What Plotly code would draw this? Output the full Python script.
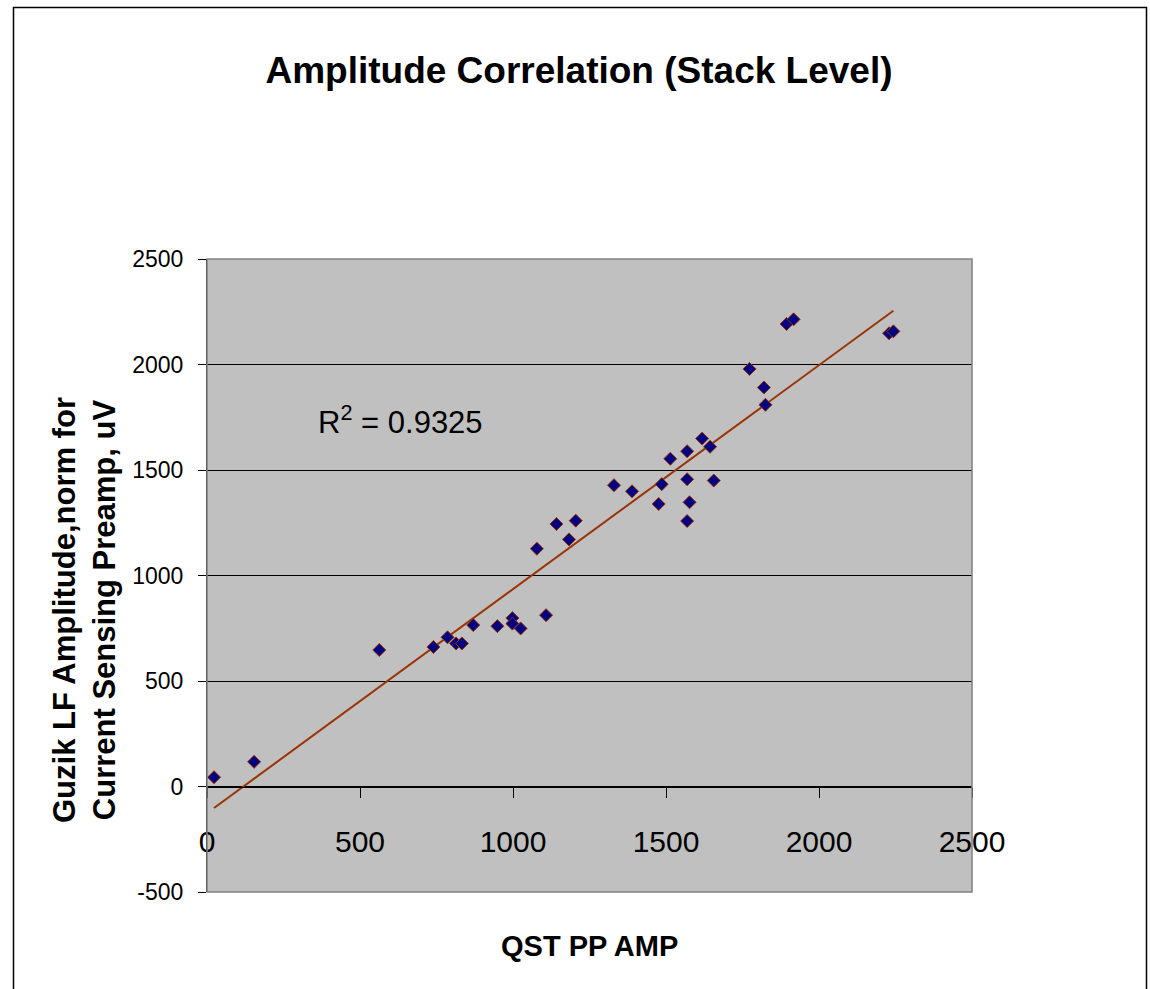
import numpy as np
import plotly.graph_objects as go

# Data
qst_pp_amp = [23, 154, 563, 740, 786, 814, 833, 870, 949, 998, 998, 1025, 1108,
              1078, 1142, 1205, 1183, 1330, 1389, 1514, 1486, 1476, 1569, 1569,
              1577, 1569, 1618, 1644, 1656, 1773, 1820, 1825, 1894, 1917, 2229, 2243]
guzik_lf_amp = [44, 117, 647, 661, 707, 678, 678, 765, 760, 798, 772, 749, 812,
                1127, 1244, 1260, 1171, 1428, 1399, 1553, 1433, 1339, 1589, 1456,
                1347, 1258, 1649, 1610, 1450, 1979, 1891, 1809, 2192, 2214, 2148, 2157]
x_ticks = [0, 500, 1000, 1500, 2000, 2500]
y_ticks = [-500, 0, 500, 1000, 1500, 2000, 2500]
r2_label = "R<sup>2</sup> = 0.9325"

# Linear trendline (least squares) computed from the data
xa = np.array(qst_pp_amp, dtype=float)
ya = np.array(guzik_lf_amp, dtype=float)
slope, intercept = np.polyfit(xa, ya, 1)
trend_x = [xa.min(), xa.max()]
trend_y = [slope * v + intercept for v in trend_x]

FONT = "Liberation Sans, Arial, sans-serif"

fig = go.Figure()
fig.add_trace(go.Scatter(
    x=trend_x, y=trend_y, mode="lines",
    line=dict(color="#993300", width=2), hoverinfo="skip", showlegend=False))
fig.add_trace(go.Scatter(
    x=qst_pp_amp, y=guzik_lf_amp, mode="markers",
    marker=dict(symbol="diamond", size=10, color="#000080",
                line=dict(color="#993300", width=1)),
    showlegend=False))

L, R, T, B = 207, 178, 259, 97
W, H = 1150, 989
pw, ph = W - L - R, H - T - B

def px2paper_x(px):
    return (px - L) / pw

def px2paper_y(py):
    return (H - B - py) / ph

ymin, ymax = -500, 2500
zero_pos = (0 - ymin) / (ymax - ymin)

fig.update_layout(
    width=W, height=H,
    margin=dict(l=L, r=R, t=T, b=B, pad=0),
    paper_bgcolor="white",
    plot_bgcolor="#c0c0c0",
    font=dict(family=FONT, color="black"),
    title=dict(text="Amplitude Correlation (Stack Level)",
               font=dict(family=FONT, size=37, color="black", weight="bold"),
               x=579 / W, xref="container", xanchor="center",
               y=1 - 70 / H, yref="container", yanchor="middle"),
    xaxis=dict(range=[0, 2500], tickvals=x_ticks, ticktext=[str(v) for v in x_ticks],
               showgrid=False, zeroline=False,
               showline=True, linecolor="black", linewidth=1,
               anchor="free", position=zero_pos,
               ticks="outside", ticklen=10, tickcolor="black",
               tickfont=dict(family=FONT, size=30, color="black"),
               ticklabelstandoff=18),
    yaxis=dict(range=[ymin, ymax], tickvals=y_ticks, ticktext=[str(v) for v in y_ticks],
               showgrid=True, gridcolor="black", gridwidth=1,
               zeroline=False,
               showline=True, linecolor="black", linewidth=1,
               ticks="outside", ticklen=8, tickcolor="black",
               tickfont=dict(family=FONT, size=23, color="black"),
               ticklabelstandoff=10),
    shapes=[
        dict(type="rect", xref="paper", yref="paper", x0=0, x1=1, y0=0, y1=1,
             line=dict(color="#808080", width=1.5), fillcolor="rgba(0,0,0,0)", layer="above"),
        dict(type="rect", xref="paper", yref="paper",
             x0=px2paper_x(13.5), x1=px2paper_x(1146.5),
             y0=px2paper_y(1010), y1=px2paper_y(7.5),
             line=dict(color="black", width=1.5), fillcolor="rgba(0,0,0,0)"),
    ],
    annotations=[
        dict(text=r2_label, xref="x", yref="y", x=631, y=1738,
             showarrow=False, xanchor="center", yanchor="middle",
             font=dict(family=FONT, size=31, color="black")),
        dict(text="Guzik LF Amplitude,norm for<br>Current Sensing Preamp, uV",
             xref="paper", yref="paper", x=px2paper_x(84), y=px2paper_y(610),
             showarrow=False, textangle=-90, xanchor="center", yanchor="middle",
             font=dict(family=FONT, size=31, color="black", weight="bold")),
        dict(text="QST PP AMP", xref="paper", yref="paper",
             x=px2paper_x(589), y=px2paper_y(946),
             showarrow=False, xanchor="center", yanchor="middle",
             font=dict(family=FONT, size=29, color="black", weight="bold")),
    ],
)

fig.write_html("out.html",
               config={"displayModeBar": False},
               post_script="document.body.style.margin='0';document.body.style.overflow='hidden';")
